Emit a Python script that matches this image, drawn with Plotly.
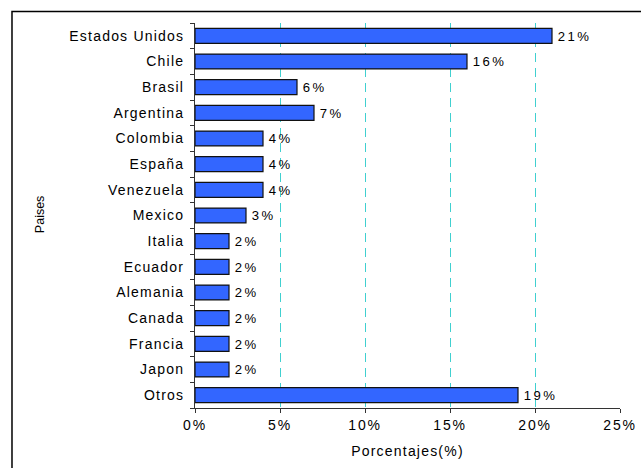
import plotly.graph_objects as go

# Share of items by country (%)
paises = ["Estados Unidos", "Chile", "Brasil", "Argentina", "Colombia", "España",
          "Venezuela", "Mexico", "Italia", "Ecuador", "Alemania", "Canada",
          "Francia", "Japon", "Otros"]
porcentajes = [21, 16, 6, 7, 4, 4, 4, 3, 2, 2, 2, 2, 2, 2, 19]
x_ticks = [0, 5, 10, 15, 20, 25]

FONT = "Liberation Sans, Arial, sans-serif"
THIN = "\u2009"


def spaced(text, px):
    return f'<span style="letter-spacing:{px}px">{text}</span>'


fig = go.Figure(
    go.Bar(
        x=porcentajes,
        y=paises,
        orientation="h",
        marker=dict(color="#3366FF", line=dict(color="#111111", width=1.2)),
        text=[THIN + spaced(f"{v}%", 2.8) for v in porcentajes],
        textposition="outside",
        textfont=dict(family=FONT, size=15, color="#000000"),
        cliponaxis=False,
        width=0.58,
    )
)

fig.update_layout(
    width=641,
    height=468,
    margin=dict(l=195, r=21, t=23, b=60),
    paper_bgcolor="white",
    plot_bgcolor="white",
    showlegend=False,
    font=dict(family=FONT, color="#000000"),
    xaxis=dict(
        range=[0, 25],
        automargin=False,
        tickvals=x_ticks,
        ticktext=[spaced(f"{t}%", 1.8) for t in x_ticks],
        tickfont=dict(size=14),
        showgrid=True,
        gridcolor="#40D0D0",
        gridwidth=1,
        griddash="9px,6px",
        showline=True,
        linecolor="#333333",
        linewidth=1,
        ticks="outside",
        ticklen=4,
        tickcolor="#333333",
        zeroline=False,
        title=dict(text=spaced("Porcentajes(%)", 1.2), font=dict(size=14), standoff=14),
    ),
    yaxis=dict(
        categoryorder="array",
        categoryarray=paises,
        autorange="reversed",
        automargin=False,
        tickvals=paises,
        ticktext=[spaced(p, 1.2) for p in paises],
        tickfont=dict(size=14),
        ticklabelstandoff=7,
        showline=True,
        linecolor="#333333",
        linewidth=1,
        ticks="outside",
        tickson="boundaries",
        ticklen=4,
        tickcolor="#333333",
        showgrid=False,
        zeroline=False,
    ),
)

# Rotated y-axis title placed to the far left
fig.add_annotation(
    text="Paises", textangle=-90, xref="paper", yref="paper",
    x=-0.3647, y=0.5035, xanchor="center", yanchor="middle",
    showarrow=False, font=dict(size=12.5, color="#000000"),
)

# Outer frame around the chart
fig.add_shape(
    type="rect", xref="paper", yref="paper",
    x0=-0.4306, x1=1.08, y0=-0.17, y1=1.03,
    line=dict(color="#000000", width=1.5), fillcolor="rgba(0,0,0,0)", layer="below",
)

fig.write_html("out.html")
